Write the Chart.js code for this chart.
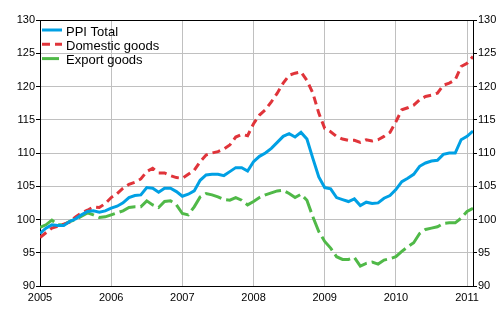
<!DOCTYPE html>
<html><head><meta charset="utf-8">
<script src="https://cdn.jsdelivr.net/npm/chart.js@4/dist/chart.umd.min.js"></script>
<style>html,body{margin:0;padding:0;background:#fff}#wrap{width:500px;height:330px}</style>
</head><body><div id="wrap"><canvas id="c" width="500" height="330"></canvas></div>
<script>
const years = ['2005','2006','2007','2008','2009','2010','2011'];
const yTicks = [90,95,100,105,110,115,120,125,130];
const seriesNames = ['PPI Total','Domestic goods','Export goods'];
const ppiTotal = [97.9,98.7,99.2,99.1,99.1,99.7,100.1,100.7,101.2,101.3,101.1,101.3,
 101.7,102.0,102.5,103.3,103.6,103.7,104.8,104.7,104.1,104.7,104.7,104.2,
 103.5,103.8,104.3,105.9,106.7,106.8,106.8,106.6,107.2,107.8,107.8,107.3,
 108.7,109.5,110.0,110.7,111.6,112.5,112.9,112.4,113.1,112.1,109.2,106.4,
 104.8,104.6,103.3,103.0,102.7,103.1,102.1,102.6,102.4,102.5,103.2,103.6,
 104.5,105.7,106.2,106.8,108.0,108.5,108.8,108.9,109.8,110.0,110.0,112.0,
 112.5,113.3];
const domestic = [97.3,98.0,98.7,99.0,99.3,99.6,100.4,101.0,101.4,101.9,101.8,102.4,
 103.3,103.9,104.7,105.3,105.6,106.1,107.2,107.7,107.0,107.0,106.6,106.3,
 106.2,106.8,107.4,108.7,109.7,110.0,110.2,110.6,111.2,112.4,112.8,112.6,
 114.4,115.7,116.5,117.7,119.0,120.5,121.7,122.0,122.2,120.9,119.0,116.0,
 113.7,113.2,112.5,112.1,111.9,111.9,111.6,112.0,111.8,112.0,112.5,113.1,
 114.7,116.5,116.8,117.2,118.0,118.5,118.7,119.0,120.2,120.5,121.0,123.0,
 123.5,124.5];
const exportGoods = [98.8,99.2,99.9,99.2,99.2,99.7,100.0,100.5,101.0,100.7,100.3,100.4,
 100.7,101.0,101.3,101.8,101.9,101.9,102.8,102.2,101.8,102.7,102.8,102.2,
 100.9,100.7,101.9,103.4,103.9,103.7,103.4,103.0,102.9,103.3,102.9,102.2,
 102.7,103.3,103.7,104.0,104.3,104.4,103.9,103.3,103.8,102.9,100.4,98.2,
 96.7,95.7,94.4,94.0,94.0,94.3,93.0,93.4,93.6,93.3,93.9,94.1,
 94.4,95.2,95.9,96.5,97.9,98.5,98.7,98.9,99.4,99.5,99.5,100.2,
 101.2,101.7];

const FONT = '"Liberation Sans", Arial, sans-serif';
const toXY = arr => arr.map((v,i)=>({x:i,y:v}));

const legendPlugin = {
  id:'boxLegend',
  afterDatasetsDraw(chart){
    const {ctx, chartArea:a} = chart;
    ctx.save();
    // top frame line
    ctx.strokeStyle='#000'; ctx.lineWidth=1; ctx.setLineDash([]);
    ctx.beginPath(); ctx.moveTo(a.left, a.top+0.5); ctx.lineTo(a.right, a.top+0.5); ctx.stroke();
    chart.data.datasets.forEach((ds,k)=>{
      const y = a.top + 10 + k*14.3;
      ctx.beginPath(); ctx.setLineDash(ds.borderDash||[]); ctx.lineWidth=3; ctx.strokeStyle=ds.borderColor;
      ctx.moveTo(a.left+2, y); ctx.lineTo(a.left+22, y); ctx.stroke();
      ctx.setLineDash([]); ctx.fillStyle='#000'; ctx.font='13px '+FONT; ctx.textBaseline='middle'; ctx.textAlign='left';
      ctx.fillText(ds.label, a.left+26, y+2);
    });
    ctx.restore();
  }
};

new Chart(document.getElementById('c'), {
  type:'line',
  data:{datasets:[
    {label:seriesNames[0], data:toXY(ppiTotal), borderColor:'#00a0e4', borderWidth:3, pointRadius:0, tension:0, fill:false},
    {label:seriesNames[1], data:toXY(domestic), borderColor:'#e0343a', borderWidth:3, borderDash:[8,5], pointRadius:0, tension:0, fill:false},
    {label:seriesNames[2], data:toXY(exportGoods), borderColor:'#50b948', borderWidth:3, borderDash:[17,5], pointRadius:0, tension:0, fill:false}
  ]},
  options:{
    responsive:false, animation:false, devicePixelRatio:1,
    layout:{padding:{top:20,left:0,right:0,bottom:0}},
    plugins:{legend:{display:false}, tooltip:{enabled:false}},
    scales:{
      x:{type:'linear', min:0, max:73,
        afterFit(s){s.height=44;},
        ticks:{stepSize:12, includeBounds:false, autoSkip:false, maxRotation:0, padding:5, color:'#000', font:{family:FONT,size:11},
          callback:v=>years[v/12]},
        grid:{color:'#c0c0c0', lineWidth:1, drawTicks:false},
        border:{color:'#000', width:1}},
      y:{position:'left', min:90, max:130,
        afterFit(s){s.width=40;},
        afterBuildTicks(s){s.ticks=yTicks.map(v=>({value:v}));},
        ticks:{padding:1, color:'#000', font:{family:FONT,size:11}},
        grid:{color:'#c0c0c0', lineWidth:1, tickLength:4, tickColor:'#000'},
        border:{color:'#000', width:1}},
      y2:{position:'right', min:90, max:130,
        afterFit(s){s.width=27;},
        afterBuildTicks(s){s.ticks=yTicks.map(v=>({value:v}));},
        ticks:{padding:1, color:'#000', font:{family:FONT,size:11}},
        grid:{drawOnChartArea:false, tickLength:4, tickColor:'#000'},
        border:{color:'#000', width:1}}
    }
  },
  plugins:[legendPlugin]
});
</script></body></html>
